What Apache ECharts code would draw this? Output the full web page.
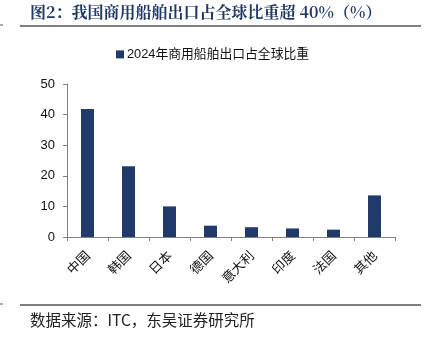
<!DOCTYPE html>
<html><head><meta charset="utf-8">
<script src="https://cdn.jsdelivr.net/npm/echarts@6/dist/echarts.min.js"></script>
<style>html,body{margin:0;padding:0;background:#fff}#c{width:431px;height:340px}</style>
</head><body><div id="c"></div>
<script>
var categories = ['中国','韩国','日本','德国','意大利','印度','法国','其他'];
var values = [41.8, 23.1, 10.0, 3.7, 3.2, 2.8, 2.4, 13.6];
var seriesName = '2024年商用船舶出口占全球比重';
var yTicks = {min: 0, max: 50, interval: 10};

var chart = echarts.init(document.getElementById('c'), null, {renderer: 'canvas'});
chart.setOption({
  animation: false,
  backgroundColor: '#fff',
  graphic: [
    {type: 'text', left: 30, top: 4, style: {text: '图2：我国商用船舶出口占全球比重超 40%（%）', font: 'bold 16px "Noto Serif CJK SC","Noto Sans CJK SC",serif', fill: '#1F3864'}},
    {type: 'line', shape: {x1: 20, y1: 26, x2: 421, y2: 26}, style: {stroke: '#000', lineWidth: 1.2}},
    {type: 'line', shape: {x1: 0, y1: 25, x2: 3, y2: 25}, style: {stroke: '#555', lineWidth: 1}},
    {type: 'line', shape: {x1: 20, y1: 305, x2: 421, y2: 305}, style: {stroke: '#000', lineWidth: 1.2}},
    {type: 'line', shape: {x1: 0, y1: 304, x2: 3, y2: 304}, style: {stroke: '#555', lineWidth: 1}},
    {type: 'text', left: 30, top: 312, style: {text: '数据来源：ITC，东吴证券研究所', font: '15.5px "Noto Sans CJK SC",serif', fill: '#222'}}
  ],
  legend: {
    top: 43, left: 111,
    itemWidth: 8, itemHeight: 8, itemGap: 3,
    icon: 'rect',
    textStyle: {fontSize: 12.8, color: '#111', fontFamily: '"Liberation Sans","Noto Sans CJK SC",sans-serif', padding: [0,0,0,-2]},
    data: [seriesName]
  },
  grid: {left: 67, right: 36, top: 84, bottom: 103, containLabel: false},
  xAxis: {
    type: 'category', data: categories,
    axisLine: {lineStyle: {color: '#808080', width: 1}},
    axisTick: {show: true, length: 4, lineStyle: {color: '#808080'}, alignWithLabel: false},
    axisLabel: {rotate: 45, fontSize: 13, color: '#111', margin: 16, fontFamily: '"Noto Sans CJK SC",sans-serif'}
  },
  yAxis: {
    type: 'value', min: yTicks.min, max: yTicks.max, interval: yTicks.interval,
    splitLine: {show: false},
    axisLine: {show: true, lineStyle: {color: '#808080'}},
    axisTick: {show: true, length: 4, lineStyle: {color: '#808080'}},
    axisLabel: {fontSize: 13, color: '#111', margin: 12, fontFamily: '"Liberation Sans",Arial,sans-serif'}
  },
  series: [{
    type: 'bar', name: seriesName, data: values, barWidth: 13,
    itemStyle: {color: '#1F3A6B'}
  }]
});
</script></body></html>
